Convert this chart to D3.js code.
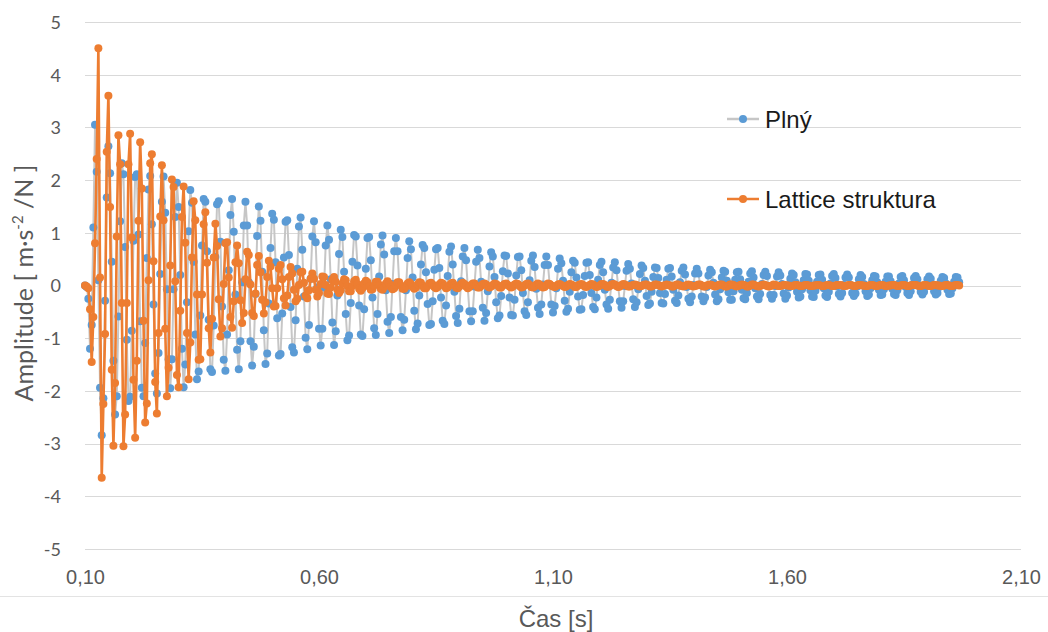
<!DOCTYPE html>
<html>
<head>
<meta charset="utf-8">
<script src="https://cdn.jsdelivr.net/npm/d3@7"></script>
<style>
  html, body { margin: 0; padding: 0; background: #ffffff; }
  svg { display: block; }
</style>
</head>
<body>
<svg id="chart" width="1048" height="632"></svg>
<script>
// Impulse response of two beam variants, sampled at a fixed rate from t = 0.10 s.
const timeStart = 0.10;
const sampleRate = 280; // samples per second

const xTicks = [0.10, 0.60, 1.10, 1.60, 2.10];
const yTicks = [-5, -4, -3, -2, -1, 0, 1, 2, 3, 4, 5];

const seriesNames = ["Plný", "Lattice struktura"];

// Plný (solid beam), amplitude in m·s^-2/N
const plnyValues = [
  0, -0.03, -0.25, -1.2, -0.75, 1.1,
  3.05, 2.16, 0.10, -1.94, -2.84, -2.14,
  -0.29, 1.67, 2.64, 2.13, 0.45, -1.43, -2.45, -2.10,
  -0.59, 1.22, 2.32, 2.11, 0.73, -1.03, -2.19, -2.11, -0.86, 0.85,
  2.06, 2.11, 0.97, -0.68, -1.94, -2.10, -1.09, 0.52, 1.82, 2.08,
  1.16, -0.36, -1.67, -2.05, -1.28, 0.22, 1.59, 2.07, 1.38, -0.07,
  -1.40, -1.95, -1.40, -0.07, 1.30, 1.95, 1.49, 0.20, -1.20, -1.93,
  -1.50, -0.32, 1.03, 1.81, 1.57, 0.45, -0.93, -1.78, -1.63, -0.57,
  0.76, 1.64, 1.59, 0.65, -0.65, -1.59, -1.64, -0.76, 0.54, 1.54,
  1.60, 0.83, -0.40, -1.41, -1.62, -0.93, 0.29, 1.34, 1.64, 1.02,
  -0.17, -1.22, -1.59, -1.06, 0.06, 1.14,
  1.59, 1.14, 0.06, -1.06,
  -1.52, -1.16, -0.16, 0.94, 1.50, 1.23, 0.26, -0.85, -1.49, -1.29,
  -0.34, 0.71, 1.36, 1.25, 0.44, -0.62, -1.33, -1.30, -0.53, 0.53,
  1.21, 1.24, 0.58, -0.41, -1.17, -1.27, -0.66, 0.32, 1.12, 1.29,
  0.68, -0.21, -0.99, -1.21, -0.75, 0.13, 0.93, 1.22, 0.82, -0.04,
  -0.82, -1.14, -0.82, -0.04, 0.76, 1.14, 0.87, 0.12, -0.70, -1.13,
  -0.87, -0.19, 0.60, 1.06, 0.92, 0.26, -0.54, -1.04, -0.95, -0.33,
  0.45, 0.96, 0.93, 0.38, -0.38, -0.93, -0.96, -0.45, 0.32, 0.90,
  0.92, 0.48, -0.23, -0.81, -0.94, -0.54, 0.17, 0.78, 0.95, 0.59,
  -0.09, -0.69, -0.90, -0.60, 0.03, 0.65,
  0.90, 0.65, 0.03, -0.60,
  -0.85, -0.65, -0.09, 0.52, 0.84, 0.69, 0.15, -0.48, -0.83, -0.72,
  -0.19, 0.40, 0.77, 0.71, 0.25, -0.35, -0.75, -0.73, -0.30, 0.30,
  0.69, 0.71, 0.33, -0.23, -0.67, -0.73, -0.38, 0.18, 0.64, 0.74,
  0.40, -0.12, -0.58, -0.71, -0.44, 0.08, 0.55, 0.71, 0.48, -0.03,
  -0.49, -0.68, -0.49, -0.02, 0.45, 0.68, 0.52, 0.07, -0.42, -0.67,
  -0.52, -0.11, 0.36, 0.63, 0.55, 0.16, -0.32, -0.62, -0.57, -0.20,
  0.27, 0.57, 0.56, 0.23, -0.23, -0.56, -0.57, -0.27, 0.19, 0.54,
  0.55, 0.29, -0.14, -0.49, -0.56, -0.32, 0.10, 0.47, 0.57, 0.35,
  -0.06, -0.42, -0.54, -0.36, 0.02, 0.39,
  0.55, 0.39, 0.02, -0.36,
  -0.51, -0.39, -0.05, 0.32, 0.51, 0.42, 0.09, -0.29, -0.50, -0.44,
  -0.12, 0.25, 0.47, 0.43, 0.15, -0.21, -0.46, -0.45, -0.18, 0.18,
  0.43, 0.44, 0.20, -0.14, -0.41, -0.45, -0.23, 0.11, 0.39, 0.45,
  0.25, -0.08, -0.36, -0.44, -0.27, 0.05, 0.34, 0.44, 0.29, -0.02,
  -0.30, -0.42, -0.30, -0.01, 0.28, 0.41, 0.32, 0.04, -0.26, -0.41,
  -0.32, -0.07, 0.22, 0.38, 0.33, 0.09, -0.20, -0.37, -0.34, -0.12,
  0.16, 0.34, 0.33, 0.14, -0.14, -0.33, -0.34, -0.16, 0.11, 0.32,
  0.33, 0.17, -0.08, -0.29, -0.33, -0.19, 0.06, 0.28, 0.34, 0.21,
  -0.03, -0.25, -0.32, -0.21, 0.01, 0.23,
  0.32, 0.23, 0.01, -0.21,
  -0.30, -0.23, -0.03, 0.19, 0.30, 0.25, 0.05, -0.17, -0.30, -0.26,
  -0.07, 0.15, 0.28, 0.26, 0.09, -0.13, -0.27, -0.27, -0.11, 0.11,
  0.25, 0.26, 0.12, -0.08, -0.24, -0.26, -0.14, 0.07, 0.23, 0.27,
  0.15, -0.05, -0.21, -0.26, -0.16, 0.03, 0.20, 0.26, 0.18, -0.01,
  -0.18, -0.25, -0.18, -0.01, 0.17, 0.25, 0.19, 0.03, -0.15, -0.25,
  -0.19, -0.04, 0.13, 0.23, 0.20, 0.06, -0.12, -0.23, -0.21, -0.07,
  0.10, 0.22, 0.21, 0.09, -0.09, -0.21, -0.22, -0.10, 0.07, 0.20,
  0.21, 0.11, -0.05, -0.19, -0.22, -0.12, 0.04, 0.18, 0.22, 0.14,
  -0.02, -0.16, -0.21, -0.14, 0.01, 0.15,
  0.21, 0.15, 0.01, -0.14,
  -0.20, -0.15, -0.02, 0.12, 0.20, 0.16, 0.03, -0.11, -0.20, -0.17,
  -0.05, 0.10, 0.18, 0.17, 0.06, -0.08, -0.18, -0.17, -0.07, 0.07,
  0.17, 0.17, 0.08, -0.06, -0.16, -0.18, -0.09, 0.04, 0.16, 0.18,
  0.10, -0.03, -0.14, -0.18, -0.11, 0.02, 0.14, 0.18, 0.12, -0.01,
  -0.12, -0.17, -0.12, -0.01, 0.12, 0.17, 0.13, 0.02, -0.11, -0.17,
  -0.14, -0.03, 0.09, 0.16, 0.14, 0.04, -0.08, -0.16, -0.15, -0.05,
  0.07, 0.16, 0.15, 0.06
];

// Lattice struktura, amplitude in m·s^-2/N
const latticeValues = [
  0, -0.02, -0.05, -0.45, -1.45, -0.6, 0.8, 2.4,
  4.50, 0.15, -3.65, -2.25,
  -0.92, 2.54, 3.60, 1.49, -1.60, -3.04, -1.85, 0.93,
  2.85, 2.30, -0.33, -3.05, -2.45, -0.33, 2.30, 2.88, 0.91, -1.79,
  -2.89, -1.43, 1.23, 2.72, 1.84, -0.67, -2.60, -2.24, 0.10, 2.32,
  2.49, 0.46, -1.83, -2.43, -0.90, 1.31, 2.28, 1.24, -0.82, -2.10,
  -1.56, 0.38, 2.01, 1.87, 0.08, -1.70, -1.93, -0.48, 1.30, 1.88,
  0.81, -0.90, -1.78, -1.08, 0.53, 1.60, 1.24, -0.17, -1.41, -1.40,
  -0.17, 1.16, 1.39, 0.43, -0.81, -1.27, -0.63, 0.53, 1.17, 0.75,
  -0.26, -0.97, -0.81, 0.03, 0.80, 0.82, 0.15, -0.60, -0.80, -0.30,
  0.44, 0.76, 0.42, -0.28, -0.71, -0.52, 0.12, 0.64, 0.58, 0.02,
  -0.52, -0.58, -0.15, 0.39, 0.56, 0.25, -0.27, -0.53, -0.32, 0.16,
  0.47, 0.36, -0.05, -0.40, -0.39, -0.05, 0.32, 0.39, 0.12, -0.24,
  -0.38, -0.19, 0.16, 0.35, 0.23, -0.08, -0.30, -0.25, 0.01, 0.25,
  0.26, 0.05, -0.19, -0.24, -0.09, 0.13, 0.23, 0.13, -0.08, -0.21,
  -0.14, 0.03, 0.17, 0.16, 0.01, -0.15, -0.16, -0.04, 0.11, 0.16,
  0.07, -0.08, -0.14, -0.09, 0.04, 0.12, 0.10, -0.01, -0.11, -0.11,
  -0.01, 0.08, 0.11, 0.03, -0.06, -0.10, -0.05, 0.04, 0.09, 0.06,
  -0.02, -0.08, -0.07, 0.00, 0.07, 0.07, 0.01, -0.06, -0.08, -0.03,
  0.04, 0.08, 0.04, -0.03, -0.07, -0.05, 0.01, 0.06, 0.06, 0.00,
  -0.06, -0.06, -0.02, 0.04, 0.06, 0.03, -0.03, -0.06, -0.04, 0.02,
  0.06, 0.05, -0.01, -0.05, -0.05, -0.01, 0.04, 0.05, 0.02, -0.03,
  -0.05, -0.03, 0.02, 0.05, 0.04, -0.01, -0.05, -0.04, 0.00, 0.04,
  0.05, 0.01, -0.04, -0.05, -0.02, 0.03, 0.05, 0.03, -0.02, -0.05,
  -0.03, 0.01, 0.04, 0.04, 0.00, -0.04, -0.04, -0.01, 0.03, 0.04,
  0.02, -0.02, -0.04, -0.02, 0.01, 0.04, 0.03, 0.00, -0.04, -0.04,
  0.00, 0.03, 0.04, 0.01, -0.02, -0.04, -0.02, 0.02, 0.04, 0.03,
  -0.01, -0.04, -0.03, 0.00, 0.03, 0.04, 0.01, -0.03, -0.04, -0.02,
  0.02, 0.04, 0.02, -0.02, -0.04, -0.03, 0.01, 0.04,
  0.03, 0, -0.02, -0.03, -0.01, 0.02, 0.03, 0.01, -0.01, -0.03, -0.02, 0.01, 0.03, 0.02, 0,
  -0.03, -0.03, 0, 0.02, 0.03, 0.01, -0.02, -0.03, -0.01, 0.01, 0.03, 0.02, -0.01, -0.03, -0.02,
  0, 0.03, 0.03, 0.01, -0.02, -0.03, -0.01, 0.02, 0.03, 0.02, -0.01, -0.03, -0.02, 0.01, 0.03,
  0.02, 0, -0.02, -0.02, 0, 0.01, 0.02, 0.01, -0.01, -0.02, -0.01, 0.01, 0.02, 0.02, 0,
  -0.02, -0.02, 0, 0.02, 0.02, 0.01, -0.01, -0.02, -0.01, 0.01, 0.02, 0.01, 0, -0.02, -0.02,
  0, 0.02, 0.02, 0, -0.01, -0.02, -0.01, 0.01, 0.02, 0.01, -0.01, -0.02, -0.01, 0, 0.02,
  0.02, 0, -0.02, -0.02, 0, 0.01, 0.02, 0.01, -0.01, -0.02, -0.01, 0.01, 0.02, 0.02, 0,
  -0.02, -0.02, 0, 0.02, 0.02, 0.01, -0.01, -0.02, -0.01, 0.01, 0.02, 0.01, 0, -0.02, -0.02,
  0, 0.02, 0.02, 0, -0.01, -0.02, -0.01, 0.01, 0.02, 0.01, -0.01, -0.02, -0.01, 0, 0.02,
  0.01, 0, -0.01, -0.01, 0, 0.01, 0.01, 0, 0, -0.01, -0.01, 0, 0.01, 0.01, 0,
  -0.01, -0.01, 0, 0.01, 0.01, 0, -0.01, -0.01, 0, 0, 0.01, 0.01, 0, -0.01, -0.01,
  0, 0.01, 0.01, 0, -0.01, -0.01, 0, 0.01, 0.01, 0.01, 0, -0.01, -0.01, 0, 0.01,
  0.01, 0, -0.01, -0.01, 0, 0.01, 0.01, 0, 0, -0.01, -0.01, 0, 0.01, 0.01, 0,
  -0.01, -0.01, 0, 0.01, 0.01, 0, -0.01, -0.01, 0, 0, 0.01, 0.01, 0, -0.01, -0.01,
  0, 0.01, 0.01, 0, -0.01, -0.01, 0, 0.01, 0.01, 0.01, 0, -0.01, -0.01, 0, 0.01,
  0.01, 0, -0.01, -0.01, 0, 0.01, 0.01, 0, 0, -0.01, -0.01, 0, 0.01, 0.01, 0,
  -0.01, -0.01, 0, 0.01, 0.01, 0
];

const colors = { plnyLine: "#c6c6c6", plnyMarker: "#5b9bd5", lattice: "#ed7d31" };

const toPoints = vals => vals.map((v, i) => ({ t: timeStart + i / sampleRate, v }));
const plnyData = toPoints(plnyValues);
const latticeData = toPoints(latticeValues);

const svg = d3.select("#chart");
const W = 1048, H = 632;
const plot = { left: 85, right: 1021, top: 22, bottom: 549 };
const markerR = 4;

const x = d3.scaleLinear().domain([0.10, 2.10]).range([plot.left, plot.right]);
const y = d3.scaleLinear().domain([-5, 5]).range([plot.bottom, plot.top]);

svg.append("rect").attr("width", W).attr("height", H).attr("fill", "#ffffff");

// horizontal gridlines
svg.append("g").selectAll("line").data(yTicks).join("line")
  .attr("x1", plot.left).attr("x2", plot.right)
  .attr("y1", d => Math.round(y(d)) + 0.5).attr("y2", d => Math.round(y(d)) + 0.5)
  .attr("stroke", "#d9d9d9").attr("stroke-width", 1);

// thin rule under the category labels
svg.append("line").attr("x1", 0).attr("x2", W).attr("y1", 596.5).attr("y2", 596.5)
  .attr("stroke", "#e3e3e3").attr("stroke-width", 1);

// y axis labels (plain hyphen for negatives)
const yAxis = svg.append("g").attr("transform", `translate(${plot.left - 24},0)`)
  .call(d3.axisLeft(y).tickValues(yTicks).tickSize(0).tickPadding(0).tickFormat(d => String(d)));
yAxis.select(".domain").remove();
yAxis.selectAll("text")
  .attr("font-family", "Lato, 'Open Sans', sans-serif").attr("font-size", 18)
  .attr("fill", "#595959").attr("dy", "0.35em");

// x axis labels
const fmtX = d => d3.format(".2f")(d).replace(".", ",");
const xAxis = svg.append("g").attr("transform", "translate(0,566)")
  .call(d3.axisBottom(x).tickValues(xTicks).tickSize(0).tickPadding(0).tickFormat(fmtX));
xAxis.select(".domain").remove();
xAxis.selectAll("text")
  .attr("font-family", "'Liberation Sans Narrow', 'Arial Narrow', sans-serif").attr("font-size", 20)
  .attr("fill", "#595959").attr("dy", "0.9em");

// axis titles
svg.append("text").attr("x", 556).attr("y", 627).attr("text-anchor", "middle")
  .attr("font-family", "'Liberation Sans Narrow', 'Arial Narrow', sans-serif").attr("font-size", 24)
  .attr("fill", "#595959").text("Čas [s]");

const yTitle = svg.append("text")
  .attr("transform", "translate(33,283) rotate(-90)")
  .attr("text-anchor", "middle")
  .attr("font-family", "Lato, 'Open Sans', sans-serif").attr("font-size", 25)
  .attr("fill", "#595959");
yTitle.append("tspan").text("Amplitude [ m·s");
yTitle.append("tspan").attr("dy", -10).attr("font-size", 15).text("-2");
yTitle.append("tspan").attr("dy", 10).text(" /N ]");

// series
const line = d3.line().x(d => x(d.t)).y(d => y(d.v));

const g = svg.append("g");
g.append("path").datum(plnyData).attr("d", line)
  .attr("fill", "none").attr("stroke", colors.plnyLine).attr("stroke-width", 2)
  .attr("stroke-linejoin", "round");
g.append("g").selectAll("circle").data(plnyData).join("circle")
  .attr("cx", d => x(d.t)).attr("cy", d => y(d.v)).attr("r", markerR)
  .attr("fill", colors.plnyMarker);

g.append("path").datum(latticeData).attr("d", line)
  .attr("fill", "none").attr("stroke", colors.lattice).attr("stroke-width", 2.6)
  .attr("stroke-linejoin", "round");
g.append("g").selectAll("circle").data(latticeData).join("circle")
  .attr("cx", d => x(d.t)).attr("cy", d => y(d.v)).attr("r", markerR)
  .attr("fill", colors.lattice);

// legend
const legend = svg.append("g");
const legendItems = [
  { name: seriesNames[0], y: 119, line: colors.plnyLine, marker: colors.plnyMarker },
  { name: seriesNames[1], y: 199, line: colors.lattice, marker: colors.lattice }
];
const li = legend.selectAll("g").data(legendItems).join("g")
  .attr("transform", d => `translate(0,${d.y})`);
li.append("line").attr("x1", 727).attr("x2", 759).attr("y1", 0).attr("y2", 0)
  .attr("stroke", d => d.line).attr("stroke-width", 2.5);
li.append("circle").attr("cx", 743).attr("cy", 0).attr("r", markerR).attr("fill", d => d.marker);
li.append("text").attr("x", 765).attr("y", 0).attr("dy", "0.36em")
  .attr("font-family", "'Liberation Sans', Arial, sans-serif").attr("font-size", 24)
  .attr("fill", "#1a1a1a").text(d => d.name);
</script>
</body>
</html>
